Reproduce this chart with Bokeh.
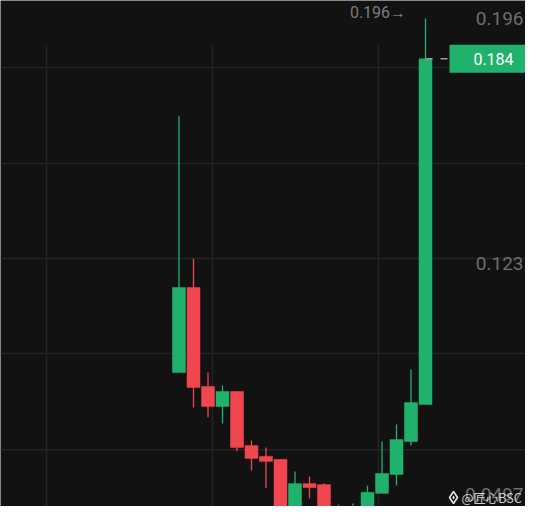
from bokeh.plotting import figure
from bokeh.models import Range1d, ColumnDataSource
from bokeh.embed import file_html
from bokeh.resources import INLINE
from bokeh.core.properties import value

# ---------------- data ----------------
opens  = [0.0907, 0.1160, 0.0866, 0.0806, 0.0851, 0.0690, 0.0658, 0.0649, 0.0503,
          0.0577, 0.0574, 0.0479, 0.0485, 0.0494, 0.0548, 0.0604, 0.0702, 0.0812]
highs  = [0.1669, 0.1246, 0.0907, 0.0869, 0.0851, 0.0705, 0.0684, 0.0649, 0.0613,
          0.0598, 0.0577, 0.0515, 0.0518, 0.0571, 0.0702, 0.0753, 0.0916, 0.1960]
lows   = [0.0907, 0.0803, 0.0774, 0.0756, 0.0673, 0.0616, 0.0565, 0.0500, 0.0482,
          0.0533, 0.0485, 0.0470, 0.0452, 0.0485, 0.0548, 0.0571, 0.0690, 0.0812]
closes = [0.1160, 0.0863, 0.0806, 0.0851, 0.0684, 0.0652, 0.0643, 0.0503, 0.0577,
          0.0565, 0.0485, 0.0491, 0.0500, 0.0551, 0.0607, 0.0708, 0.0818, 0.1840]

grid_prices = [0.1814, 0.1529, 0.1246, 0.0964, 0.0678]
grid_bars = [-9.14, 2.31, 13.76]
axis_labels = ["0.196", "0.123", "0.0497"]
axis_values = [0.196, 0.123, 0.0497]
high_label = "0.196\u2192"
last_label = "0.184"
watermark = "@匠心BSC"

# ---------------- style ----------------
BG = "#121212"
GRID = "#242424"
UP = "#20b26c"
DOWN = "#f0464f"

W, H = 525, 506
X0, STEP = 178.5, 14.5             # px of first candle centre, px per candle
Y0, PPU, V0 = 18.0, 3363.0, 0.196  # px of price V0, px per price unit


def bx(px):  # x pixel -> bar index
    return (px - X0) / STEP


def pv(py):  # y pixel -> price
    return V0 - (py - Y0) / PPU


p = figure(width=W, height=H, output_backend="svg", toolbar_location=None,
           x_axis_location=None, y_axis_location=None, min_border=0,
           x_range=Range1d(bx(0), bx(W)), y_range=Range1d(pv(H), pv(0)))
p.background_fill_color = BG
p.border_fill_color = BG
p.outline_line_color = None
p.grid.visible = False

n = len(opens)
xs = list(range(n))
colors = [UP if c >= o else DOWN for o, c in zip(opens, closes)]
src = ColumnDataSource(dict(
    x=xs, o=opens, h=highs, l=lows, c=closes, col=colors,
    top=[max(o, c) for o, c in zip(opens, closes)],
    bot=[min(o, c) for o, c in zip(opens, closes)],
))

# grid
p.segment(x0=[bx(0)] * len(grid_prices), x1=[bx(W)] * len(grid_prices),
          y0=grid_prices, y1=grid_prices, line_color=GRID, line_width=1.5)
p.segment(x0=grid_bars, x1=grid_bars, y0=[pv(45)] * len(grid_bars),
          y1=[pv(H + 10)] * len(grid_bars), line_color=GRID, line_width=1.5)

# candles
p.segment(x0="x", x1="x", y0="l", y1="h", line_color="col", line_width=1.3, source=src)
p.vbar(x="x", width=13 / STEP, top="top", bottom="bot", fill_color="col",
       line_color="col", line_width=0.5, source=src)

# last price dashed line + box
last = closes[-1]
p.segment(x0=[bx(425)], x1=[bx(W)], y0=[last], y1=[last],
          line_color="#9c9c9c", line_width=1.5, line_dash="7 8")
p.rect(x=[bx(493)], y=[last], width=88, height=28, width_units="screen",
       height_units="screen", fill_color=UP, line_color=None)
p.text(x=[bx(493)], y=[last], text=[last_label], text_color="white",
       text_font=value("Roboto"), text_font_size="16px",
       text_align="center", text_baseline="middle")

# price scale labels (right-aligned to stay inside the frame; the lowest
# one nudged up so it is not clipped at the bottom edge)
label_y = [max(v, pv(494)) for v in axis_values]
p.text(x=[bx(523)] * len(axis_labels), y=label_y, text=axis_labels,
       text_color="#6e6e6e", text_font=value("Roboto"), text_font_size="19px",
       text_align="right", text_baseline="middle")

# high marker
p.text(x=[bx(377.5)], y=[pv(12)], text=[high_label], text_color="#7c7c7c",
       text_font=value("Roboto"), text_font_size="16px",
       text_align="center", text_baseline="middle")

# watermark
wy = pv(497)
p.scatter(x=[bx(453)], y=[wy], marker="diamond", size=12,
          fill_color=None, line_color="#e6e6e6", line_width=1.6)
p.scatter(x=[bx(453)], y=[wy], marker="diamond", size=4,
          fill_color="#e6e6e6", line_color=None)
p.text(x=[bx(461)], y=[wy], text=[watermark], text_color="#e6e6e6",
       text_font=value("Noto Sans CJK SC"), text_font_size="12.5px",
       text_align="left", text_baseline="middle", text_alpha=0.9)

open("out.html", "w").write(file_html(p, INLINE))
